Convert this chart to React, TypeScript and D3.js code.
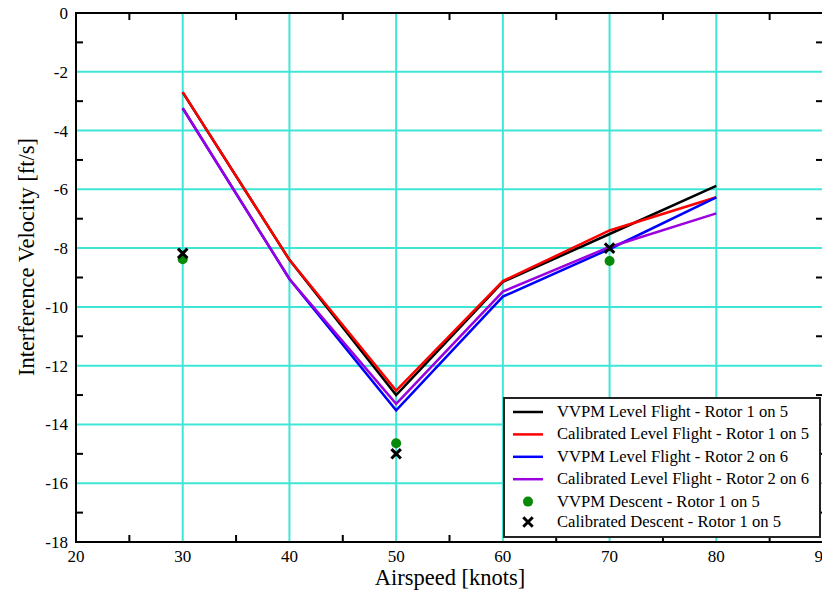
import React, { useEffect, useRef } from "react";
import * as d3 from "d3";

// airspeed categories (knots)
const airspeed = [30, 40, 50, 60, 70, 80];

// level flight series (ft/s)
const vvpmLevel15 = [-2.7, -8.4, -13.0, -9.15, -7.52, -5.88];
const calLevel15 = [-2.69, -8.4, -12.85, -9.12, -7.4, -6.27];
const vvpmLevel26 = [-3.24, -9.05, -13.52, -9.65, -8.03, -6.27];
const calLevel26 = [-3.24, -9.05, -13.3, -9.48, -7.96, -6.82];

// descent points
const descentSpeed = [30, 50, 70];
const vvpmDescent15 = [-8.38, -14.64, -8.44];
const calDescent15 = [-8.18, -15.0, -8.0];

const xTicks = [20, 30, 40, 50, 60, 70, 80, 90];
const yTicks = [0, -2, -4, -6, -8, -10, -12, -14, -16, -18];

const lineSeries = [
  { name: "VVPM Level Flight - Rotor 1 on 5", values: vvpmLevel15, color: "#000000" },
  { name: "Calibrated Level Flight - Rotor 1 on 5", values: calLevel15, color: "#ff0000" },
  { name: "VVPM Level Flight - Rotor 2 on 6", values: vvpmLevel26, color: "#0000ff" },
  { name: "Calibrated Level Flight - Rotor 2 on 6", values: calLevel26, color: "#9a00e0" },
];

const App = () => {
  const svgRef = useRef<SVGSVGElement>(null);

  useEffect(() => {
    const W = 822;
    const H = 590;
    const m = { left: 76, top: 13, right: 823, bottom: 542 };
    const font = "Liberation Serif, Times New Roman, Times, serif";
    const grid = "#3ee6d6";

    const svg = d3.select(svgRef.current).attr("width", W).attr("height", H)
      .attr("font-family", font);
    svg.selectAll("*").remove();

    const x = d3.scaleLinear().domain([20, 90]).range([m.left, m.right]);
    const y = d3.scaleLinear().domain([-18, 0]).range([m.bottom, m.top]);

    svg.append("rect").attr("width", W).attr("height", H).attr("fill", "#fff");

    //grid lines
    svg.selectAll(".gx")
      .data(xTicks.slice(1, -1))
      .join("line")
      .attr("x1", d => x(d)).attr("x2", d => x(d))
      .attr("y1", m.top).attr("y2", m.bottom)
      .attr("stroke", grid).attr("stroke-width", 2);
    svg.selectAll(".gy")
      .data(yTicks.slice(1, -1))
      .join("line")
      .attr("x1", m.left).attr("x2", m.right)
      .attr("y1", d => y(d)).attr("y2", d => y(d))
      .attr("stroke", grid).attr("stroke-width", 2);

    //minor ticks, pointing inward
    const minorX = d3.range(25, 90, 10);
    const minorY = d3.range(-17, 0, 2);
    const tk = svg.append("g").attr("stroke", "#000").attr("stroke-width", 2);
    minorX.forEach(v => {
      tk.append("line").attr("x1", x(v)).attr("x2", x(v)).attr("y1", m.bottom).attr("y2", m.bottom - 7);
      tk.append("line").attr("x1", x(v)).attr("x2", x(v)).attr("y1", m.top).attr("y2", m.top + 7);
    });
    minorY.forEach(v => {
      tk.append("line").attr("x1", m.left).attr("x2", m.left + 7).attr("y1", y(v)).attr("y2", y(v));
      tk.append("line").attr("x1", m.right).attr("x2", m.right - 7).attr("y1", y(v)).attr("y2", y(v));
    });

    //lines
    const line = d3.line<number>()
      .x((_, i) => x(airspeed[i]))
      .y(d => y(d));
    lineSeries.forEach(s => {
      svg.append("path")
        .attr("d", line(s.values))
        .attr("fill", "none")
        .attr("stroke", s.color)
        .attr("stroke-width", 2.5);
    });

    //descent points
    svg.selectAll(".dot")
      .data(vvpmDescent15)
      .join("circle")
      .attr("cx", (_, i) => x(descentSpeed[i]))
      .attr("cy", d => y(d))
      .attr("r", 5)
      .attr("fill", "#078a07");
    const cross = d3.symbol().type(d3.symbolX).size(60);
    svg.selectAll(".cross")
      .data(calDescent15)
      .join("path")
      .attr("d", cross)
      .attr("transform", (d, i) => `translate(${x(descentSpeed[i])},${y(d)})`)
      .attr("fill", "none")
      .attr("stroke", "#000")
      .attr("stroke-width", 3);

    //frame
    svg.append("rect")
      .attr("x", m.left).attr("y", m.top)
      .attr("width", m.right - m.left).attr("height", m.bottom - m.top)
      .attr("fill", "none").attr("stroke", "#000").attr("stroke-width", 2);

    //tick labels
    svg.selectAll(".xl")
      .data(xTicks)
      .join("text")
      .attr("x", d => x(d)).attr("y", 562)
      .attr("text-anchor", "middle")
      .attr("font-size", 17)
      .text(d => d);
    svg.selectAll(".yl")
      .data(yTicks)
      .join("text")
      .attr("x", 68).attr("y", d => y(d) + 6)
      .attr("text-anchor", "end")
      .attr("font-size", 17)
      .text(d => d);

    //axis titles
    svg.append("text")
      .attr("x", 450).attr("y", 585)
      .attr("text-anchor", "middle")
      .attr("font-size", 22.5)
      .text("Airspeed [knots]");
    svg.append("text")
      .attr("transform", "translate(34,257) rotate(-90)")
      .attr("text-anchor", "middle")
      .attr("font-size", 22.5)
      .text("Interference Velocity [ft/s]");

    //legend
    const lg = svg.append("g");
    lg.append("rect")
      .attr("x", 504).attr("y", 398).attr("width", 316).attr("height", 139)
      .attr("fill", "#fff").attr("stroke", "#222").attr("stroke-width", 2);
    const rowY = (i: number) => 412 + i * 22.4;
    lineSeries.forEach((s, i) => {
      lg.append("line")
        .attr("x1", 513).attr("x2", 543)
        .attr("y1", rowY(i)).attr("y2", rowY(i))
        .attr("stroke", s.color).attr("stroke-width", 2.5);
      lg.append("text")
        .attr("x", 557).attr("y", rowY(i) + 5)
        .attr("font-size", 16.6)
        .text(s.name);
    });
    lg.append("circle").attr("cx", 528).attr("cy", rowY(4)).attr("r", 5).attr("fill", "#078a07");
    lg.append("text").attr("x", 557).attr("y", rowY(4) + 5)
      .attr("font-size", 16.6)
      .text("VVPM Descent - Rotor 1 on 5");
    lg.append("path").attr("d", cross)
      .attr("transform", `translate(528,${rowY(5) - 2})`)
      .attr("fill", "none").attr("stroke", "#000").attr("stroke-width", 3);
    lg.append("text").attr("x", 557).attr("y", rowY(5) + 3)
      .attr("font-size", 16.6)
      .text("Calibrated Descent - Rotor 1 on 5");
  }, []);

  return (
    <svg ref={svgRef} style={{ position: "absolute", left: 0, top: 0, display: "block" }}></svg>
  );
};

export default App;
